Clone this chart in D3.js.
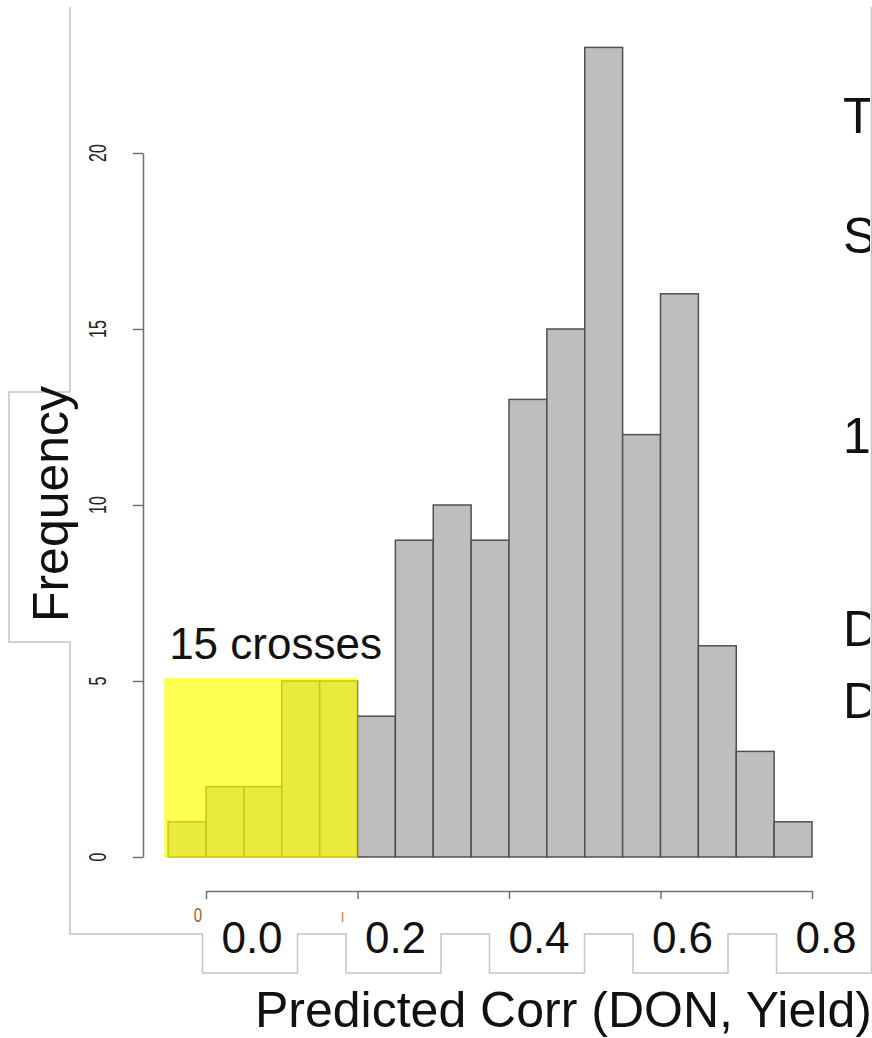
<!DOCTYPE html>
<html>
<head>
<meta charset="utf-8">
<script src="https://cdn.jsdelivr.net/npm/d3@7"></script>
<style>
  body { margin: 0; background: #fff; }
  svg { display: block; font-family: "Liberation Sans", Arial, sans-serif; }
</style>
</head>
<body>
<svg class="chart"></svg>
<script>
// histogram data: left edge of each bin and its count
var binStarts = [-0.05, 0.00, 0.05, 0.10, 0.15, 0.20, 0.25, 0.30, 0.35,
                 0.40, 0.45, 0.50, 0.55, 0.60, 0.65, 0.70, 0.75];
var counts = [1, 2, 2, 5, 5, 4, 9, 10, 9, 13, 15, 23, 12, 16, 6, 3, 1];
var binWidth = 0.05;

var yTicks = [0, 5, 10, 15, 20];
var xTicks = [0, 0.2, 0.4, 0.6, 0.8];
var xTickLabels = ["0.0", "0.2", "0.4", "0.6", "0.8"];

// highlighted region
var highlightRange = [-0.05, 0.2];
var highlightCount = 5;
var highlightLabel = "15 crosses";

var yLabel = "Frequency";
var xLabel = "Predicted Corr (DON, Yield)";
var sideLetters = ["T", "S", "1", "D", "D"];

var W = 872, H = 1038;

var svg = d3.select(".chart")
	.attr("width", W)
	.attr("height", H);

var x = d3.scaleLinear().domain([0, 0.8]).range([206, 812]);
var y = d3.scaleLinear().domain([0, 20]).range([857, 153]);
// the big pasted tick labels sit a bit off the real ticks
var xLab = d3.scaleLinear().domain([0, 0.8]).range([250, 824]);

var data = binStarts.map(function(b, i) { return {x0: b, x1: b + binWidth, n: counts[i]}; });

// outline of the pasted text boxes
var boxHalf = 47.5;
var outline = "M70,7V392H9V642H70V934";
xTicks.forEach(function(t) {
	outline += "H" + (xLab(t) - boxHalf) + "V973H" + (xLab(t) + boxHalf) + "V934";
});
outline += "V7";
svg.append("path")
	.attr("d", outline)
	.attr("fill", "none")
	.attr("stroke", "#c4c4c4")
	.attr("stroke-width", 1.5);

// bars
svg.selectAll(".bar")
	.data(data)
.enter().append("rect")
	.attr("class", "bar")
	.attr("x", function(d) { return x(d.x0); })
	.attr("y", function(d) { return y(d.n); })
	.attr("width", function(d) { return x(d.x1) - x(d.x0); })
	.attr("height", function(d) { return y(0) - y(d.n); })
	.attr("fill", "#bebebe")
	.attr("stroke", "#505050")
	.attr("stroke-width", 1.5);

// yellow highlight box
svg.append("rect")
	.attr("x", x(highlightRange[0]) - 4)
	.attr("y", y(highlightCount) - 3)
	.attr("width", x(highlightRange[1]) - x(highlightRange[0]) + 4)
	.attr("height", y(0) - y(highlightCount) + 4)
	.attr("fill", "#ffff00")
	.attr("fill-opacity", 0.68);

svg.append("text")
	.attr("x", x(highlightRange[0]) + 1)
	.attr("y", y(highlightCount) - 22)
	.attr("font-size", 44)
	.attr("fill", "#111")
	.text(highlightLabel);

// y axis
var yAxis = svg.append("g")
	.attr("transform", "translate(143,0)")
	.call(d3.axisLeft(y).tickValues(yTicks).tickSize(10).tickSizeOuter(0).tickFormat(""));
yAxis.selectAll("path, line").attr("stroke", "#707070").attr("stroke-width", 1.5);

svg.selectAll(".ylab")
	.data(yTicks)
.enter().append("text")
	.attr("class", "ylab")
	.attr("transform", function(d) { return "translate(106," + y(d) + ") rotate(-90) scale(1,1.5)"; })
	.attr("text-anchor", "middle")
	.attr("font-size", 16)
	.attr("fill", "#222")
	.text(function(d) { return d; });

// x axis
var xAxis = svg.append("g")
	.attr("transform", "translate(0,891)")
	.call(d3.axisBottom(x).tickValues(xTicks).tickSize(8).tickSizeOuter(0).tickFormat(""));
xAxis.selectAll("path, line").attr("stroke", "#707070").attr("stroke-width", 1.5);

// leftovers of the original small labels
svg.append("text")
	.attr("transform", "translate(198,922) scale(1,1.35)")
	.attr("text-anchor", "middle")
	.attr("font-size", 15)
	.attr("fill", "#a0642e")
	.text("0");
svg.append("line")
	.attr("x1", x(0.2) - 15).attr("x2", x(0.2) - 15)
	.attr("y1", 912).attr("y2", 922)
	.attr("stroke", "#d08a4a")
	.attr("stroke-width", 1.5);

// big tick labels
svg.selectAll(".xlab")
	.data(xTicks)
.enter().append("text")
	.attr("class", "xlab")
	.attr("x", function(d) { return xLab(d) + 2; })
	.attr("y", 953)
	.attr("text-anchor", "middle")
	.attr("font-size", 44)
	.attr("fill", "#111")
	.text(function(d, i) { return xTickLabels[i]; });

// axis titles
svg.append("text")
	.attr("x", 255)
	.attr("y", 1027)
	.attr("font-size", 50)
	.attr("fill", "#111")
	.text(xLabel);

svg.append("text")
	.attr("transform", "translate(68,504) rotate(-90)")
	.attr("text-anchor", "middle")
	.attr("font-size", 50)
	.attr("fill", "#111")
	.text(yLabel);

// cut-off text on the right edge (it is cut in the source too)
var sideY = [133, 253, 453, 646, 718];
svg.append("clipPath").attr("id", "side")
	.append("rect").attr("x", 0).attr("y", 0).attr("width", 870).attr("height", H);
svg.append("g")
	.attr("clip-path", "url(#side)")
	.selectAll("text")
	.data(sideLetters)
.enter().append("text")
	.attr("x", 843)
	.attr("y", function(d, i) { return sideY[i]; })
	.attr("font-size", 50)
	.attr("fill", "#111")
	.text(function(d) { return d; });
</script>
</body>
</html>
